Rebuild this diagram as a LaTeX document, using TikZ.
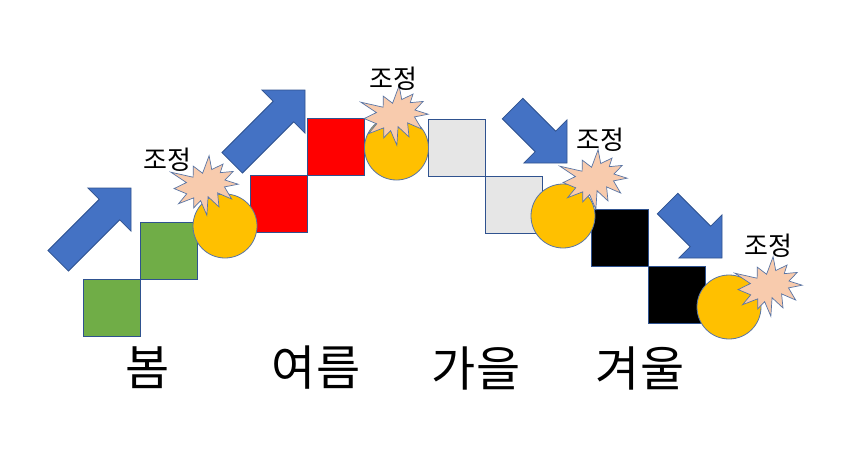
\documentclass[tikz,border=0pt]{standalone}
\usepackage{fontspec}
\newfontfamily\kor{Noto Sans CJK KR}
\definecolor{arrowblue}{HTML}{4472C4}
\definecolor{edgeblue}{HTML}{2F528F}
\definecolor{sqgreen}{HTML}{70AD47}
\definecolor{sqgray}{HTML}{E6E6E6}
\definecolor{ballorange}{HTML}{FFC000}
\definecolor{boompeach}{HTML}{F8CBAD}
\newcommand\blockarrow[4]{% tip x, tip y, angle, length
  \begin{scope}[shift={(#1,#2)},rotate=#3]
    \draw[arrowstyle] (0,0) -- (-30.5,30.5) -- (-30.5,14.5) -- (-#4,14.5)
      -- (-#4,-14.5) -- (-30.5,-14.5) -- (-30.5,-30.5) -- cycle;
  \end{scope}}
\newcommand\boom[4]{% cx, cy, w, h
  \begin{scope}[shift={(#1,#2)},rotate=15,xscale=#3/100,yscale=#4/100,shift={(-50,-50)}]
    \draw[boomstyle] (50,26.85) -- (67.23,0) -- (65.53,24.65) -- (85.09,20.63)
      -- (77.32,33.87) -- (97.67,37.67) -- (81.51,48.50) -- (100,61.53)
      -- (77.95,59.92) -- (84.00,83.77) -- (64.91,66.93) -- (61.33,91.38)
      -- (48.76,69.14) -- (39.28,100) -- (35.72,72.35) -- (22.05,81.56)
      -- (26.24,64.52) -- (0.63,67.53) -- (17.23,54.51) -- (0,39.88)
      -- (21.42,35.26) -- (1.71,10.63) -- (33.85,29.26) -- (38.67,10.63) -- cycle;
  \end{scope}}
\begin{document}
\begin{tikzpicture}[x=1pt,y=-1pt,
  arrowstyle/.style={fill=arrowblue,draw=edgeblue,line width=0.8pt,line join=miter},
  boomstyle/.style={fill=boompeach,draw=edgeblue!80,line width=0.7pt,line join=miter},
  sq/.style={rectangle,minimum size=57pt,inner sep=0pt,draw=edgeblue,line width=0.9pt},
  ball/.style={circle,minimum size=64pt,inner sep=0pt,fill=ballorange,draw=edgeblue!80,line width=0.8pt},
  season/.style={font=\kor\fontsize{48}{50}\selectfont,inner sep=0pt},
  adj/.style={font=\kor\fontsize{26}{28}\selectfont,inner sep=0pt}]
\useasboundingbox[fill=white] (0,0) rectangle (855,455);
% arrows
\blockarrow{131}{188}{45}{103}
\blockarrow{305}{90}{45}{103}
\blockarrow{567}{163}{-45}{77}
\blockarrow{722}{258}{-45}{77}
% squares
\node[sq,fill=sqgreen] (g1) at (111.5,307.5) {};
\node[sq,fill=sqgreen] (g2) at (168.5,250.5) {};
\node[sq,fill=red] (r1) at (278.5,203.5) {};
\node[sq,fill=red] (r2) at (335.5,146.5) {};
\node[sq,fill=sqgray] (y1) at (456.5,147.5) {};
\node[sq,fill=sqgray] (y2) at (513.5,204.5) {};
\node[sq,fill=black] (k1) at (619.5,237.5) {};
\node[sq,fill=black] (k2) at (676.5,294.5) {};
% balls
\node[ball] (b1) at (225,226) {};
\node[ball] (b2) at (396.5,148) {};
\node[ball] (b3) at (563,216) {};
\node[ball] (b4) at (729,307) {};
% explosions
\boom{206}{186}{63}{57}
\boom{396}{116}{63}{57}
\boom{595}{180}{63}{57}
\boom{770}{287}{63}{57}
% labels
\node[adj] (t1) at (167,160) {조정};
\node[adj] (t2) at (393,79) {조정};
\node[adj] (t3) at (600,140) {조정};
\node[adj] (t4) at (768,246) {조정};
\node[season] (s1) at (148,368) {봄};
\node[season] (s2) at (316,368) {여름};
\node[season] (s3) at (476,368) {가을};
\node[season] (s4) at (640,368) {겨울};
\end{tikzpicture}
\end{document}
